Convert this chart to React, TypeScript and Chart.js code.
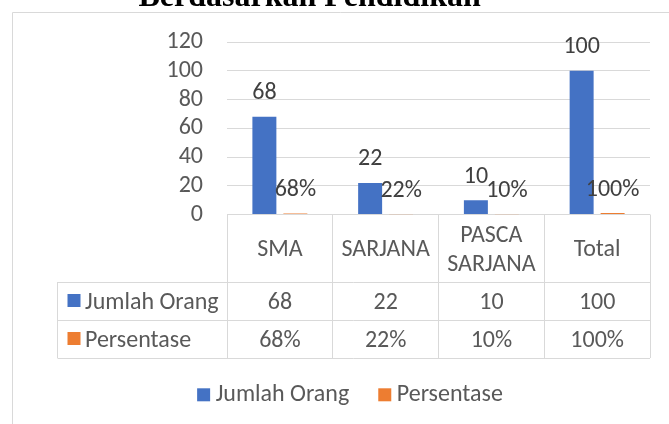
import React, { useEffect, useRef } from 'react';
import { Chart, registerables } from 'chart.js';

Chart.register(...registerables);

// ---- data ----
const categories: string[] = ['SMA', 'SARJANA', 'PASCA SARJANA', 'Total'];
const jumlahOrang: number[] = [68, 22, 10, 100];
const persentase: number[] = [0.68, 0.22, 0.1, 1.0];
const seriesNames: string[] = ['Jumlah Orang', 'Persentase'];
const yTicks: number[] = [0, 20, 40, 60, 80, 100, 120];
const titleText = 'Berdasarkan Pendidikan';

// ---- styles ----
const BLUE = '#4472C4';
const ORANGE = '#ED7D31';
const GRID = '#D9D9D9';
const TEXT = '#595959';
const LABEL = '#404040';

const fmtPct = (v: number) => Math.round(v * 100) + '%';

function pickFont(): { family: string; size: number } {
  try {
    const ctx = document.createElement('canvas').getContext('2d')!;
    const s = 'Jumlah Orang 0123456789';
    ctx.font = '40px monospace';
    const a = ctx.measureText(s).width;
    ctx.font = '40px Carlito, monospace';
    const b = ctx.measureText(s).width;
    if (Math.abs(a - b) > 0.5) return { family: 'Carlito', size: 24 };
  } catch (e) {
    /* ignore */
  }
  return { family: '"Liberation Sans", Arial, sans-serif', size: 21 };
}

export default function App() {
  const ref = useRef<HTMLCanvasElement | null>(null);

  useEffect(() => {
    if (!ref.current) return;
    const F = pickFont();
    const font = (s = F.size) => `${s}px ${F.family}`;

    const capH = (ctx: CanvasRenderingContext2D) => ctx.measureText('H').actualBoundingBoxAscent;

    const wrap = (ctx: CanvasRenderingContext2D, text: string, maxW: number): string[] => {
      const words = text.split(' ');
      const lines: string[] = [];
      let cur = '';
      for (const w of words) {
        const t = cur ? cur + ' ' + w : w;
        if (cur && ctx.measureText(t).width > maxW) {
          lines.push(cur);
          cur = w;
        } else cur = t;
      }
      if (cur) lines.push(cur);
      return lines;
    };

    const decor = {
      id: 'decor',
      beforeDraw(chart: any) {
        const ctx: CanvasRenderingContext2D = chart.ctx;
        ctx.save();
        ctx.strokeStyle = GRID;
        ctx.lineWidth = 1;
        ctx.beginPath();
        ctx.moveTo(12.5, chart.height);
        ctx.lineTo(12.5, 12.5);
        ctx.lineTo(chart.width, 12.5);
        ctx.stroke();
        ctx.font = 'bold 32px "Liberation Serif", "Times New Roman", serif';
        ctx.fillStyle = '#000';
        ctx.textAlign = 'center';
        ctx.textBaseline = 'alphabetic';
        ctx.fillText(titleText, 309.6, 6);
        ctx.restore();
      },
      afterDatasetsDraw(chart: any) {
        const ctx: CanvasRenderingContext2D = chart.ctx;
        const area = chart.chartArea;
        const xs = chart.scales.x;
        ctx.save();

        // data labels
        ctx.font = font();
        ctx.fillStyle = LABEL;
        ctx.textAlign = 'center';
        ctx.textBaseline = 'alphabetic';
        chart.data.datasets.forEach((ds: any, di: number) => {
          const meta = chart.getDatasetMeta(di);
          meta.data.forEach((el: any, i: number) => {
            const v = ds.data[i];
            const txt = di === 0 ? String(v) : fmtPct(v);
            ctx.fillText(txt, el.x, el.y - 17.5);
          });
        });

        // data table
        const n = categories.length;
        const colW = (area.right - area.left) / n;
        const top = area.bottom;
        const headerBottom = top + 67.5;
        const row1Bottom = headerBottom + 38;
        const row2Bottom = row1Bottom + 38;
        const labelLeft = 57.5;
        const px = (v: number) => Math.round(v - 0.5) + 0.5;

        ctx.strokeStyle = GRID;
        ctx.lineWidth = 1;
        ctx.beginPath();
        for (let i = 0; i <= n; i++) {
          const x = px(area.left + i * colW);
          ctx.moveTo(x, top);
          ctx.lineTo(x, row2Bottom);
        }
        ctx.moveTo(px(labelLeft), headerBottom);
        ctx.lineTo(px(labelLeft), row2Bottom);
        [headerBottom, row1Bottom, row2Bottom].forEach((y) => {
          ctx.moveTo(labelLeft, px(y));
          ctx.lineTo(area.right, px(y));
        });
        ctx.stroke();

        ctx.font = font();
        ctx.fillStyle = TEXT;
        const ch = capH(ctx);
        // header
        const hc = (top + headerBottom) / 2;
        categories.forEach((c, i) => {
          const cx = xs.getPixelForValue(i);
          const lines = wrap(ctx, c, colW - 8);
          const pitch = 28.5;
          lines.forEach((ln, li) => {
            const cy = hc + (li - (lines.length - 1) / 2) * pitch;
            ctx.fillText(ln, cx, cy + ch / 2);
          });
        });
        // rows
        const rows = [
          { name: seriesNames[0], color: BLUE, vals: jumlahOrang.map(String), y0: headerBottom, y1: row1Bottom },
          { name: seriesNames[1], color: ORANGE, vals: persentase.map(fmtPct), y0: row1Bottom, y1: row2Bottom },
        ];
        rows.forEach((r) => {
          const cy = (r.y0 + r.y1) / 2;
          ctx.fillStyle = r.color;
          ctx.fillRect(labelLeft + 10, cy - 7, 13, 13);
          ctx.fillStyle = TEXT;
          ctx.textAlign = 'left';
          ctx.fillText(r.name, labelLeft + 27.5, cy + ch / 2);
          ctx.textAlign = 'center';
          r.vals.forEach((v, i) => {
            ctx.fillText(v, xs.getPixelForValue(i), cy + ch / 2);
          });
        });

        // legend
        const items = chart.data.datasets.map((ds: any) => ({ label: ds.label, color: ds.backgroundColor }));
        const widths = items.map((it: any) => 13 + 5.5 + ctx.measureText(it.label).width);
        const gap = 29;
        const total = widths.reduce((a: number, b: number) => a + b, 0) + gap * (items.length - 1);
        let lx = 350 - total / 2;
        const legBase = 400.7;
        items.forEach((it: any, i: number) => {
          ctx.fillStyle = it.color;
          ctx.fillRect(lx, 388.3, 13, 13);
          ctx.fillStyle = TEXT;
          ctx.textAlign = 'left';
          ctx.fillText(it.label, lx + 18.5, legBase);
          lx += widths[i] + gap;
        });

        ctx.restore();
      },
    };

    const chart = new Chart(ref.current, {
      type: 'bar',
      data: {
        labels: categories,
        datasets: [
          {
            label: seriesNames[0],
            data: jumlahOrang,
            backgroundColor: BLUE,
            borderWidth: 0,
            categoryPercentage: 0.586,
            barPercentage: 0.774,
          },
          {
            label: seriesNames[1],
            data: persentase,
            backgroundColor: ORANGE,
            borderWidth: 0,
            categoryPercentage: 0.586,
            barPercentage: 0.774,
          },
        ],
      },
      options: {
        responsive: false,
        animation: false,
        devicePixelRatio: 1,
        layout: { padding: { left: 0, top: 42, right: 19, bottom: 209.5 } },
        plugins: {
          legend: { display: false },
          title: { display: false },
          tooltip: { enabled: false },
        },
        scales: {
          x: {
            display: false,
            offset: true,
            grid: { display: false },
          },
          y: {
            min: 0,
            max: 120,
            afterBuildTicks: (s: any) => {
              s.ticks = yTicks.map((v) => ({ value: v }));
            },
            afterFit: (s: any) => {
              s.width = 227;
            },
            ticks: {
              autoSkip: false,
              padding: 24,
              color: TEXT,
              font: { family: F.family, size: F.size },
            },
            grid: { color: GRID, lineWidth: 1, drawTicks: false },
            border: { display: false },
          },
        },
      },
      plugins: [decor],
    } as any);

    return () => chart.destroy();
  }, []);

  return (
    <div style={{ position: 'fixed', left: 0, top: 0, width: 669, height: 424, background: '#fff' }}>
      <canvas ref={ref} width={669} height={424} style={{ display: 'block' }} />
    </div>
  );
}
